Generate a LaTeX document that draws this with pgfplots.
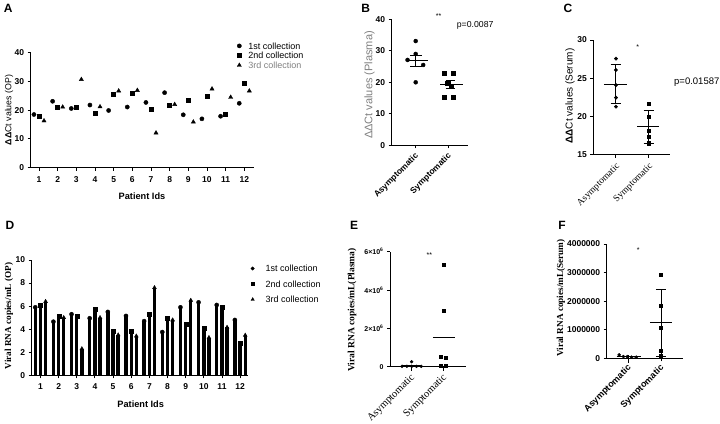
\documentclass[border=0pt]{standalone}
\usepackage{pgfplots}
\pgfplotsset{compat=1.18}
\usepackage{fontspec}
\setmainfont{Liberation Sans}
\newfontfamily\arial{Liberation Sans}
\newfontfamily\tnr{Liberation Serif}
\newcommand{\fs}[1]{\fontsize{#1}{#1}\selectfont}
\definecolor{lg}{HTML}{808080}
\pgfplotsset{
  panel/.style={
    scale only axis, anchor=south west, clip=false,
    axis lines=left, axis line style={-, line width=0.9pt, black},
    tick align=outside, major tick length=3pt,
    tick style={line width=0.9pt, black},
    tick label style={font=\arial\bfseries\fs{8.5}, text=black},
    /pgf/number format/assume math mode=true,
  },
  st/.style={black, line width=0.9pt, forget plot, no markers},
}
\begin{document}
\begin{tikzpicture}
\path[use as bounding box] (0pt,0pt) rectangle (720pt,423pt);

% ---------------- Panel A ----------------
\begin{axis}[panel, at={(30.7pt,255.3pt)}, width=223.3pt, height=115pt,
  xmin=0.556, xmax=12.52, ymin=0, ymax=40, xtick={1,...,12}, ytick={0,10,20,30,40},
  xticklabel style={yshift=-2pt},
  legend style={draw=none, fill=none, at={(0.924,1.0935)}, anchor=north west,
    font=\arial\fs{9}, row sep=2.2pt, inner sep=0pt,
    nodes={inner sep=0.5pt, text height=6.5pt, text depth=0pt},
    /tikz/every odd column/.append style={column sep=6.5pt}},
  legend cell align=left]
\addplot[only marks, mark=*, mark size=2.1pt, black] coordinates {
 (0.73,18.5)(1.73,23.1)(2.73,20.6)(3.73,21.8)(4.73,19.9)(5.73,21.1)
 (6.73,22.7)(7.73,26.1)(8.73,18.4)(9.73,17.0)(10.73,17.9)(11.73,22.4)};
\addlegendentry{1st collection}
\addplot[only marks, mark=square*, mark size=2pt, black] coordinates {
 (1,17.9)(2,21.2)(3,21.2)(4,18.8)(5,25.4)(6,26.0)
 (7,20.5)(8,21.8)(9,23.5)(10,24.8)(11,18.7)(12,29.4)};
\addlegendentry{2nd collection}
\addplot[only marks, mark=triangle*, mark size=2.4pt, black] coordinates {
 (1.27,16.3)(2.27,21.1)(3.27,30.7)(4.27,21.2)(5.27,26.7)(6.27,26.9)
 (7.27,12.1)(8.27,22.0)(9.27,15.9)(10.27,27.4)(11.27,24.5)(12.27,26.7)};
\addlegendentry{\textcolor{lg}{3rd collection}}
\end{axis}

% ---------------- Panel B ----------------
\begin{axis}[panel, at={(391.7pt,277.7pt)}, width=76.6pt, height=126pt,
  xmin=-0.736, xmax=1.613, ymin=0, ymax=40, xtick={0,1}, ytick={0,10,20,30,40},
  xticklabels={Asymptomatic,Symptomatic},
  xticklabel style={xshift=4pt, yshift=-4pt, rotate=45, anchor=east, font=\arial\bfseries\fs{8.5}}]
\addplot[only marks, mark=*, mark size=2pt, black] coordinates {
 (0,33.1)(0,29.0)(-0.25,27.1)(0.23,25.5)(0,20.0)};
\addplot[only marks, mark=square*, mark size=2pt, black] coordinates {
 (0.88,22.9)(1.15,22.9)(0.98,19.8)(1.1,18.9)(0.88,15.4)(1.15,15.4)};
\addplot[st] coordinates {(-0.28,26.9)(0.37,26.9)};
\addplot[st] coordinates {(0,25.1)(0,28.6)};
\addplot[st] coordinates {(-0.17,28.6)(0.18,28.6)};
\addplot[st] coordinates {(-0.17,25.1)(0.18,25.1)};
\addplot[st] coordinates {(0.75,19.3)(1.44,19.3)};
\addplot[st] coordinates {(1.07,18.0)(1.07,20.6)};
\addplot[st] coordinates {(0.92,20.6)(1.22,20.6)};
\addplot[st] coordinates {(0.92,18.0)(1.22,18.0)};
\end{axis}

% ---------------- Panel C ----------------
\begin{axis}[panel, at={(593.3pt,268.3pt)}, width=76.7pt, height=114.7pt,
  xmin=-0.688, xmax=1.645, ymin=15, ymax=30, xtick={0,1}, ytick={15,20,25,30},
  xticklabels={Asymptomatic,Symptomatic},
  xticklabel style={xshift=5pt, yshift=-5pt, rotate=45, anchor=east, font=\tnr\fs{9.5}}]
\addplot[only marks, mark=*, mark size=1.7pt, black] coordinates {
 (0,27.56)(0,26.08)(0,24.1)(0,22.46)(0,21.28)};
\addplot[only marks, mark=square*, mark size=1.6pt, black] coordinates {
 (1,21.67)(1,20.0)(1,18.1)(1,17.35)(1,16.5)};
\addplot[st] coordinates {(-0.37,24.24)(0.33,24.24)};
\addplot[st] coordinates {(0,21.67)(0,26.8)};
\addplot[st] coordinates {(-0.16,26.8)(0.16,26.8)};
\addplot[st] coordinates {(-0.16,21.67)(0.16,21.67)};
\addplot[st] coordinates {(0.655,18.66)(1.32,18.66)};
\addplot[st] coordinates {(1,16.5)(1,20.8)};
\addplot[st] coordinates {(0.84,20.8)(1.16,20.8)};
\addplot[st] coordinates {(0.84,16.5)(1.16,16.5)};
\end{axis}

% ---------------- Panel D ----------------
\begin{axis}[panel, at={(31.7pt,47.7pt)}, width=216.6pt, height=115.3pt,
  xmin=0.515, xmax=12.45, ymin=0, ymax=10, xtick={1,...,12}, ytick={0,2,4,6,8,10},
  xticklabel style={yshift=-2pt},
  legend style={draw=none, fill=none, at={(1.0115,0.9605)}, anchor=north west,
    font=\arial\fs{9}, row sep=8pt, inner sep=0pt,
    nodes={inner sep=0.5pt, text height=6.5pt, text depth=0pt},
    /tikz/every odd column/.append style={column sep=10.8pt}},
  legend cell align=left]
\addplot[ycomb, black, line width=3.4pt, mark=*, mark size=2.1pt,
  mark options={line width=0.3pt}, forget plot] coordinates {
 (0.71,5.9)(1.71,4.65)(2.71,5.3)(3.71,4.95)(4.71,5.5)(5.71,5.15)
 (6.71,4.7)(7.71,3.75)(8.71,5.9)(9.71,6.33)(10.71,6.1)(11.71,4.8)};
\addplot[ycomb, black, line width=3.4pt, mark=square*, mark size=2pt,
  mark options={line width=0.3pt}, forget plot] coordinates {
 (1,6.1)(2,5.1)(3,5.1)(4,5.7)(5,3.85)(6,3.8)
 (7,5.3)(8,4.95)(9,4.45)(10,4.07)(11,5.87)(12,2.77)};
\addplot[ycomb, black, line width=3.4pt, mark=triangle*, mark size=2.3pt,
  mark options={line width=0.3pt}, forget plot] coordinates {
 (1.28,6.4)(2.28,5.0)(3.28,2.3)(4.28,5.0)(5.28,3.5)(6.28,3.4)
 (7.28,7.6)(8.28,4.8)(9.28,6.5)(10.28,3.27)(11.28,4.16)(12.28,3.47)};
\addlegendimage{only marks, mark=*, mark size=1.7pt, black}
\addlegendentry{1st collection}
\addlegendimage{only marks, mark=square*, mark size=1.6pt, black}
\addlegendentry{2nd collection}
\addlegendimage{only marks, mark=triangle*, mark size=1.9pt, black}
\addlegendentry{3rd collection}
\end{axis}

% ---------------- Panel E ----------------
\begin{axis}[panel, at={(390pt,56.3pt)}, width=76pt, height=115pt,
  xmin=-0.678, xmax=1.70, ymin=0, ymax=6000000, xtick={0,1},
  ytick={0,2000000,4000000,6000000}, scaled y ticks=false,
  yticklabels={0,2{\texttimes}10\textsuperscript{6},4{\texttimes}10\textsuperscript{6},6{\texttimes}10\textsuperscript{6}},
  yticklabel style={font=\arial\bfseries\fs{7}},
  xticklabels={Asymptomatic,Symptomatic},
  xticklabel style={xshift=4pt, yshift=-4pt, rotate=45, anchor=east, font=\tnr\fs{10.5}}]
\addplot[only marks, mark=*, mark size=1.5pt, black] coordinates {
 (-0.3,20000)(-0.15,20000)(0,260000)(0,20000)(0.15,20000)(0.3,20000)};
\addplot[only marks, mark=square*, mark size=1.5pt, black] coordinates {
 (1,5300000)(1,2920000)(0.916,520000)(1.08,450000)(0.916,30000)(1.08,30000)};
\addplot[st] coordinates {(-0.3,60000)(0.3,60000)};
\addplot[st] coordinates {(0,-220000)(0,60000)};
\addplot[st] coordinates {(0.66,1530000)(1.35,1530000)};
\addplot[st] coordinates {(1,-220000)(1,40000)};
\end{axis}

% ---------------- Panel F ----------------
\begin{axis}[panel, at={(606.7pt,64.7pt)}, width=76.6pt, height=114.3pt,
  xmin=-0.66, xmax=1.68, ymin=0, ymax=4000000, xtick={0,1},
  ytick={0,1000000,2000000,3000000,4000000}, scaled y ticks=false,
  yticklabels={0,1000000,2000000,3000000,4000000},
  xticklabels={Asymptomatic,Symptomatic},
  xticklabel style={xshift=4pt, yshift=-3pt, rotate=45, anchor=east, font=\arial\bfseries\fs{9}}]
\addplot[only marks, mark=*, mark size=1.5pt, black] coordinates {
 (-0.28,120000)(-0.15,60000)(-0.03,60000)(0.1,40000)(0.24,40000)};
\addplot[only marks, mark=square*, mark size=1.5pt, black] coordinates {
 (1,2940000)(1,1850000)(1,1080000)(1,280000)(1,80000)};
\addplot[st] coordinates {(-0.36,70000)(0.4,70000)};
\addplot[st] coordinates {(0,-150000)(0,100000)};
\addplot[st] coordinates {(0.66,1250000)(1.34,1250000)};
\addplot[st] coordinates {(1,80000)(1,2410000)};
\addplot[st] coordinates {(0.84,2410000)(1.16,2410000)};
\addplot[st] coordinates {(0.84,80000)(1.16,80000)};
\end{axis}

% ---------------- Labels ----------------
\begin{scope}[every node/.style={inner sep=0pt}]
\node[font=\arial\bfseries\fs{12}] at (8.3pt,414.7pt) {A};
\node[font=\arial\bfseries\fs{12}] at (365.8pt,415pt) {B};
\node[font=\arial\bfseries\fs{12}] at (568pt,415pt) {C};
\node[font=\arial\bfseries\fs{12}] at (10pt,198pt) {D};
\node[font=\arial\bfseries\fs{12}] at (354pt,198pt) {E};
\node[font=\arial\bfseries\fs{12}] at (562pt,198pt) {F};

\node[rotate=90, font=\arial\fs{8.8}] at (9pt,313pt) {\textbf{ΔΔ}Ct values (OP)};
\node[rotate=90, font=\arial\fs{11}, text=lg] at (369.5pt,338pt) {ΔΔCt values (Plasma)};
\node[rotate=90, font=\arial\fs{10}] at (570pt,327pt) {\textbf{ΔΔ}Ct values (Serum)};
\node[rotate=90, font=\tnr\bfseries\fs{9.2}] at (9pt,107pt) {Viral RNA copies/mL (OP)};
\node[rotate=90, font=\tnr\bfseries\fs{9.5}] at (352pt,113pt) {Viral RNA copies/mL(Plasma)};
\node[rotate=90, font=\tnr\bfseries\fs{9.2}] at (561pt,125pt) {Viral RNA copies/mL(Serum)};

\node[font=\arial\bfseries\fs{9.2}] at (142pt,227pt) {Patient Ids};
\node[font=\arial\bfseries\fs{9.2}] at (140.7pt,19pt) {Patient Ids};

\node[font=\arial\fs{7}] at (438.7pt,407pt) {**};
\node[font=\arial\fs{8.7}, anchor=west] at (456.7pt,397.3pt) {p=0.0087};
\node[font=\arial\fs{7}] at (637.7pt,376pt) {*};
\node[font=\arial\fs{9.5}, anchor=west] at (674pt,341.3pt) {p=0.01587};
\node[font=\arial\fs{7}] at (429.3pt,168pt) {**};
\node[font=\arial\fs{7}] at (638.3pt,173pt) {*};
\end{scope}
\end{tikzpicture}
\end{document}
